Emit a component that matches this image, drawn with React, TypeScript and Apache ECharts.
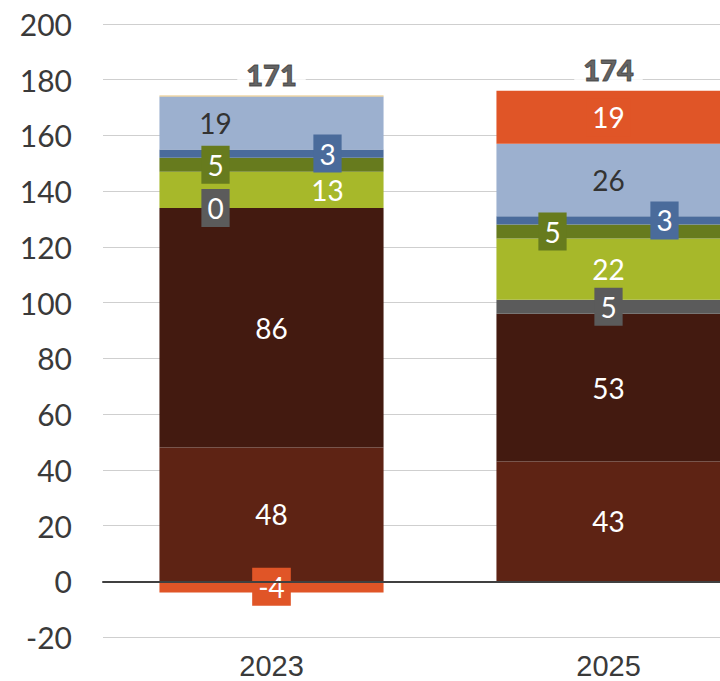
import React, { useEffect, useRef } from "react";
import * as echarts from "echarts";

const categories = ["2023", "2025"];
const yTicks = { min: -20, max: 200, interval: 20 };

const brownValues = [48, 43];
const darkBrownValues = [86, 53];
const greyValues = [0, 5];
const yellowGreenValues = [13, 22];
const oliveValues = [5, 5];
const blueValues = [3, 3];
const lightBlueValues = [19, 26];
const tanValues = [0.3, 0];
const orangeValues = [-4, 19];
const totals = [171, 174];

type SeriesDef = {
  name: string;
  data: number[];
  color: string;
  textColor: string;
  boxed: boolean;
  shifts: number[];
  showLabel: boolean;
};

const seriesDefs: SeriesDef[] = [
  { name: "brown", data: brownValues, color: "#5e2314", textColor: "#ffffff", boxed: false, shifts: [0, 0], showLabel: true },
  { name: "darkBrown", data: darkBrownValues, color: "#431a10", textColor: "#ffffff", boxed: false, shifts: [0, 0], showLabel: true },
  { name: "grey", data: greyValues, color: "#5b5b5b", textColor: "#ffffff", boxed: true, shifts: [-56, 0], showLabel: true },
  { name: "yellowGreen", data: yellowGreenValues, color: "#a7b82a", textColor: "#ffffff", boxed: false, shifts: [56, 0], showLabel: true },
  { name: "olive", data: oliveValues, color: "#677b1e", textColor: "#ffffff", boxed: true, shifts: [-56, -56], showLabel: true },
  { name: "blue", data: blueValues, color: "#4a6b9b", textColor: "#ffffff", boxed: true, shifts: [56, 56], showLabel: true },
  { name: "lightBlue", data: lightBlueValues, color: "#9cb0cf", textColor: "#333333", boxed: false, shifts: [-56, 0], showLabel: true },
  { name: "tan", data: tanValues, color: "#e8c47c", textColor: "#333333", boxed: false, shifts: [0, 0], showLabel: false },
  { name: "orange", data: orangeValues, color: "#e05527", textColor: "#ffffff", boxed: true, shifts: [0, 0], showLabel: true },
];

export default function App() {
  const ref = useRef<HTMLDivElement>(null);

  useEffect(() => {
    if (!ref.current) return;
    const chart = echarts.init(ref.current, null, { renderer: "svg" });

    const posSums = categories.map((_, i) =>
      seriesDefs.reduce((s, d) => s + (d.data[i] > 0 ? d.data[i] : 0), 0)
    );

    const barSeries = seriesDefs.map((d) => ({
      name: d.name,
      type: "bar",
      stack: "total",
      barWidth: "66.5%",
      itemStyle: { color: d.color },
      data: d.data.map((v, i) => ({
        value: v,
        label: {
          show: d.showLabel,
          position: "inside",
          offset: [d.shifts[i], 0],
          formatter: () => String(Math.round(v)),
          color: d.textColor,
          fontFamily: "Lato",
          fontSize: 28,
          lineHeight: 30,
          padding: [4, 6],
          backgroundColor: d.boxed ? d.color : "transparent",
        },
      })),
    }));

    chart.setOption({
      animation: false,
      grid: { left: 103, right: 0, top: 24, bottom: 44 },
      xAxis: {
        type: "category",
        data: categories,
        z: 10,
        axisTick: { show: false },
        axisLine: { show: true, onZero: true, lineStyle: { color: "#404040", width: 2 } },
        axisLabel: {
          color: "#3a3a3a",
          fontFamily: "Liberation Sans",
          fontSize: 29,
          margin: 14,
        },
      },
      yAxis: {
        type: "value",
        min: yTicks.min,
        max: yTicks.max,
        interval: yTicks.interval,
        axisLine: { show: false },
        axisTick: { show: false },
        splitLine: { lineStyle: { color: "#cfcfcf", width: 1 } },
        axisLabel: {
          color: "#3a3a3a",
          fontFamily: "Lato",
          fontSize: 30,
          margin: 31,
        },
      },
      series: [
        ...barSeries,
        {
          name: "total",
          type: "scatter",
          symbolSize: 0,
          silent: true,
          z: 20,
          data: posSums,
          label: {
            show: true,
            position: "top",
            distance: 4,
            formatter: (p: any) => String(totals[p.dataIndex]),
            color: "#3a3a3a",
            fontFamily: "Lato",
            fontWeight: 900,
            fontSize: 29,
            lineHeight: 32,
            padding: [1, 9],
            backgroundColor: "#ffffff",
            textBorderColor: "#3a3a3a",
            textBorderWidth: 1,
          },
        },
      ],
    });

    return () => chart.dispose();
  }, []);

  return (
    <div
      style={{
        position: "fixed",
        left: 0,
        top: 0,
        width: 720,
        height: 681,
        overflow: "hidden",
        background: "#ffffff",
      }}
    >
      <div ref={ref} style={{ width: 777, height: 681 }} />
    </div>
  );
}
